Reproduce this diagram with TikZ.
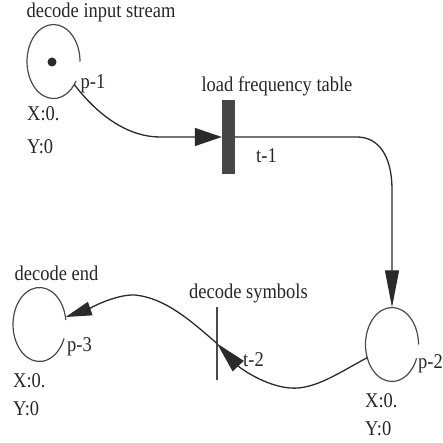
\documentclass[tikz,border=0pt]{standalone}
\usepackage{fontspec}
\setmainfont{Liberation Serif}[FakeStretch=0.88]
\usepackage{tikz}
\usetikzlibrary{arrows.meta,shapes.geometric}
\definecolor{ringgray}{HTML}{4A4A4A}
\definecolor{bargray}{HTML}{474747}
\definecolor{wiregray}{HTML}{2A2A2A}
\tikzset{
  plc/.style={ellipse,inner sep=0pt,minimum width=53pt,minimum height=74pt},
  ring/.style={draw=ringgray,line width=1.2pt},
  tbar/.style={rectangle,fill=bargray,inner sep=0pt,
               minimum width=13pt,minimum height=74pt},
  tline/.style={rectangle,draw=ringgray,line width=1.1pt,inner sep=0pt,
                minimum width=0pt,minimum height=73pt},
  arr/.style={draw=wiregray,line width=1.3pt},
  lbl/.style={font=\fontsize{21}{25}\selectfont,inner sep=0pt,text=black!85},
}

\begin{document}
\begin{tikzpicture}[x=1pt,y=-1pt]
\useasboundingbox (0,0) rectangle (443,443);
% places and transitions
\node[plc] (p1) at (53.5,61.5) {};
\node[plc] (p2) at (392,344.5) {};
\node[plc] (p3) at (39.5,324.5) {};
\foreach \p/\a/\b in {p1/0/328,p2/0/338,p3/7/338}
  \draw[ring] ([shift={(\a:26.5pt and 37pt)}]\p.center)
    arc[start angle=\a,end angle=\b,x radius=26.5pt,y radius=37pt];
\node[circle,fill=wiregray,inner sep=0pt,minimum size=9pt] (tok) at (52,62) {};
\node[tbar] (t1) at (228.5,137) {};
\node[tline] (t2) at (217,343.5) {};
% labels
\node[lbl] (p1name) at (101,12) {decode input stream};
\node[lbl] (p1id) at (93,83.5) {p-1};
\node[lbl,anchor=west] (p1x) at (27,113.5) {X:0.};
\node[lbl,anchor=west] (p1y) at (27,146.5) {Y:0};
\node[lbl] (t1name) at (277,86) {load frequency table};
\node[lbl] (t1id) at (266.5,156) {t-1};
\node[lbl] (p2id) at (430.5,364) {p-2};
\node[lbl,anchor=west] (p2x) at (365,401) {X:0.};
\node[lbl,anchor=west] (p2y) at (365,429) {Y:0};
\node[lbl] (p3name) at (56.5,273) {decode end};
\node[lbl] (p3id) at (79.5,347) {p-3};
\node[lbl,anchor=west] (p3x) at (13,381) {X:0.};
\node[lbl,anchor=west] (p3y) at (13,409) {Y:0};
\node[lbl] (t2name) at (248.5,293.5) {decode symbols};
\node[lbl] (t2id) at (253.5,360) {t-2};
% arcs
\draw[arr,-{Triangle[length=27pt,width=18pt]}] (p1.-48)
  .. controls (100,118) and (130,137) .. (160,137) -- (t1.west);
\draw[arr,-{Triangle[length=37pt,width=14pt]}] (t1.east) -- (357,137)
  .. controls (378,137) and (392,155) .. (392,190) -- (p2.north);
\draw[arr,-{Triangle[length=31pt,width=15pt]}] (p2.208)
  .. controls (340,372) and (315,390) .. (290,388)
  .. controls (265,386) and (240,368) .. (t2.center);
\draw[arr,-{Triangle[length=26pt,width=14pt]}] (t2.center)
  .. controls (190,320) and (165,298) .. (135,295)
  .. controls (115,294) and (86,310) .. (p3.16);
\end{tikzpicture}
\end{document}
